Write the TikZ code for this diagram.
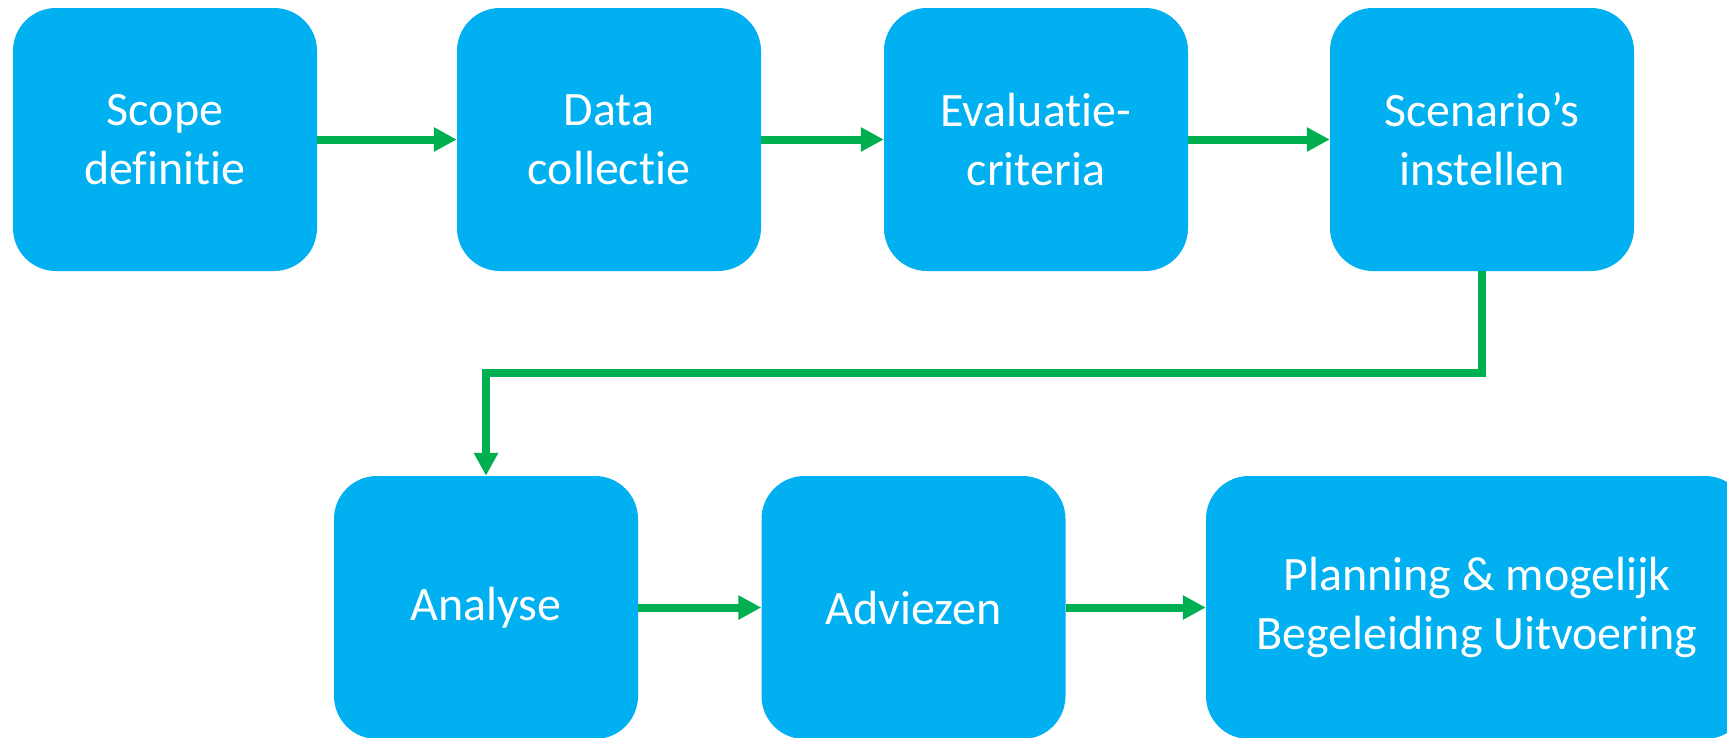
\documentclass[tikz,border=0pt]{standalone}
\usepackage{fontspec}
\setmainfont{Carlito}[Ligatures={NoCommon}]
\usetikzlibrary{arrows.meta}
\definecolor{boxblue}{HTML}{00B0F0}
\definecolor{arrgreen}{HTML}{00B050}
\tikzset{
  stepbox/.style={fill=boxblue, draw=none, rounded corners=43pt, text=white,
    minimum width=304pt, minimum height=263pt, inner sep=0pt, align=center,
    font=\fontsize{48}{58.6}\selectfont},
  flow/.style={draw=arrgreen, line width=8pt, line join=miter,
    -{Triangle[length=23pt,width=23pt]}}
}
\begin{document}
\begin{tikzpicture}[x=1pt,y=-1pt]
\clip (0,0) rectangle (1727,737);
\fill[white] (0,0) rectangle (1727,737);
\node[stepbox] (n1) at (165,139.5) {Scope\\definitie};
\node[stepbox] (n2) at (609,139.5) {Data\\collectie};
\node[stepbox] (n3) at (1036,139.5) {Evaluatie-\\criteria};
\node[stepbox] (n4) at (1482,139.5) {Scenario’s\\instellen};
\node[stepbox] (n5) at (486,607.5) {Analyse};
\node[stepbox] (n6) at (913.5,607.5) {Adviezen};
\node[stepbox, minimum width=542pt] (n7) at (1477,607.5) {Planning \& mogelijk\\Begeleiding Uitvoering};
\draw[flow] (n1) -- (n2);
\draw[flow] (n2) -- (n3);
\draw[flow] (n3) -- (n4);
\draw[flow] (n4.south) -- (n4.south |- 0,373) -- (n5.north |- 0,373) -- (n5.north);
\draw[flow] (n5) -- (n6);
\draw[flow] (n6) -- (n7);
\end{tikzpicture}
\end{document}
